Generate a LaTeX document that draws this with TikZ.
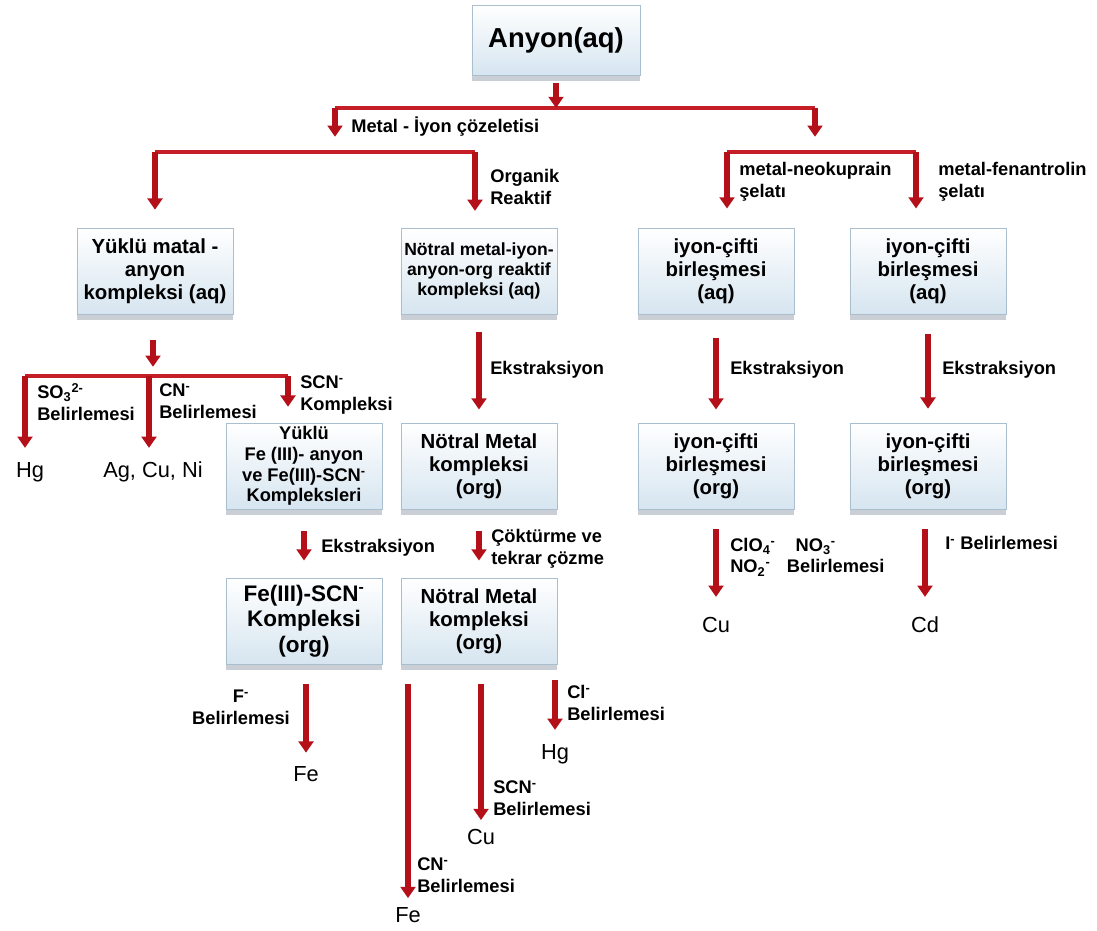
\documentclass[tikz,border=0pt]{standalone}
\usepackage{fontspec}
\setmainfont{Liberation Sans}
\usepackage{xcolor}
\usetikzlibrary{arrows.meta,shadows}

\definecolor{arrowred}{RGB}{180,16,26}
\definecolor{barred}{RGB}{198,30,38}
\definecolor{boxline}{RGB}{170,190,206}
\definecolor{boxfill}{RGB}{214,229,240}
\definecolor{boxshadow}{RGB}{120,135,150}

\begin{document}
\begin{tikzpicture}[x=0.025cm,y=-0.025cm,
		box/.style={draw=boxline, top color=white, bottom color=boxfill,
			minimum width=3.9cm, minimum height=2.15cm, inner sep=1pt, align=center,
			drop shadow={shadow xshift=0pt, shadow yshift=-4pt, opacity=0.4, fill=boxshadow}},
		fhuge/.style={font=\bfseries\fontsize{19.5}{22}\selectfont},
		fbig/.style={font=\bfseries\fontsize{16}{18}\selectfont},
		fmid/.style={font=\bfseries\fontsize{14.5}{16.5}\selectfont},
		fsmall/.style={font=\bfseries\fontsize{12.5}{14.3}\selectfont},
		ffe/.style={font=\bfseries\fontsize{13}{14.8}\selectfont},
		lbl/.style={anchor=west, align=left, inner sep=0pt, font=\bfseries\fontsize{13}{15.5}\selectfont},
		leaf/.style={inner sep=0pt, text height=11pt, text depth=3pt, font=\fontsize{15.5}{18}\selectfont},
		redbar/.style={draw=barred, line width=2.2pt},
		redarrow/.style={every edge/.style={draw=arrowred, line width=4.5pt,
			-{Triangle[width=10.5pt,length=8pt]}}}]
		\useasboundingbox (0,0) rectangle (1097,930);
		% boxes
		\node[box, fhuge, minimum width=4.2cm, minimum height=1.75cm] (anyon) at (556,40) {Anyon(aq)};
		\node[box, fmid] (yuklu) at (155,271) {Yüklü matal -\\anyon\\kompleksi (aq)};
		\node[box, fsmall] (notaq) at (479,271) {Nötral metal-iyon-\\anyon-org reaktif\\kompleksi (aq)};
		\node[box, fmid] (ionaqL) at (716,271) {iyon-çifti\\birleşmesi\\(aq)};
		\node[box, fmid] (ionaqR) at (928,271) {iyon-çifti\\birleşmesi\\(aq)};
		\node[box, ffe] (yfe) at (304,466) {Yüklü\\Fe (III)- anyon\\ve Fe(III)-SCN\textsuperscript{-}\\Kompleksleri};
		\node[box, fmid] (notorg) at (479,466) {Nötral Metal\\kompleksi\\(org)};
		\node[box, fmid] (ionorgL) at (716,466) {iyon-çifti\\birleşmesi\\(org)};
		\node[box, fmid] (ionorgR) at (928,466) {iyon-çifti\\birleşmesi\\(org)};
		\node[box, fbig] (fescn) at (304,621) {Fe(III)-SCN\textsuperscript{-}\\Kompleksi\\(org)};
		\node[box, fmid] (notorg2) at (479,621) {Nötral Metal\\kompleksi\\(org)};
		% results
		\node[leaf] (hg1) at (30,472) {Hg};
		\node[leaf] (agcu) at (153,472) {Ag, Cu, Ni};
		\node[leaf] (cu1) at (716,627) {Cu};
		\node[leaf] (cd) at (925,627) {Cd};
		\node[leaf] (fe1) at (306,776) {Fe};
		\node[leaf] (hg2) at (555,754) {Hg};
		\node[leaf] (cu2) at (481,839) {Cu};
		\node[leaf] (fe2) at (408,917) {Fe};
		% branch points
		\coordinate (j1) at (556,108);
		\coordinate (j1l) at (335,108);
		\coordinate (j1r) at (815,108);
		\coordinate (j2) at (335,152);
		\coordinate (j2l) at (155,152);
		\coordinate (j2r) at (475,152);
		\coordinate (j3) at (815,152);
		\coordinate (j3l) at (727,152);
		\coordinate (j3r) at (916,152);
		\coordinate (j4) at (153,376);
		\coordinate (j4l) at (25,376);
		\coordinate (j4m) at (149,376);
		\coordinate (j4r) at (288,376);
		%
		\draw[redbar] (j1l) -- (j1r);
		\draw[redbar] (j2l) -- (j2r);
		\draw[redbar] (j3l) -- (j3r);
		\draw[redbar] (j4l) -- (j4r);
		%
		\path[redarrow]
		% top
		(anyon) edge[shorten <=0.2cm] (j1)
		(j1l) edge[shorten >=0.38cm] (j2)
		(j1r) edge[shorten >=0.38cm] (j3)
		(j2l) edge[shorten >=0.45cm] (j2l |- yuklu.north)
		(j2r) edge[shorten >=0.42cm] (j2r |- notaq.north)
		(j3l) edge[shorten >=0.48cm] (j3l |- ionaqL.north)
		(j3r) edge[shorten >=0.48cm] (j3r |- ionaqR.north)
		% left branch
		(yuklu.south -| j4) edge[shorten <=0.63cm, shorten >=0.23cm] (j4)
		(j4l) edge[shorten >=0.35cm] (j4l |- hg1.north)
		(j4m) edge[shorten >=0.35cm] (j4m |- agcu.north)
		(j4r) edge[shorten >=0.4cm] (j4r |- yfe.north)
		% extraction
		(notaq) edge[shorten <=0.45cm, shorten >=0.33cm] (notorg)
		(ionaqL) edge[shorten <=0.58cm, shorten >=0.33cm] (ionorgL)
		(ionaqR) edge[shorten <=0.5cm, shorten >=0.35cm] (ionorgR)
		(yfe) edge[shorten <=0.55cm, shorten >=0.43cm] (fescn)
		(notorg) edge[shorten <=0.55cm, shorten >=0.43cm] (notorg2)
		% determination
		(cu1 |- ionorgL.south) edge[shorten <=0.5cm, shorten >=0.5cm] (cu1)
		(cd |- ionorgR.south) edge[shorten <=0.5cm, shorten >=0.5cm] (cd)
		(fe1 |- fescn.south) edge[shorten <=0.48cm, shorten >=0.33cm] (fe1)
		(fe2 |- notorg2.south) edge[shorten <=0.48cm, shorten >=0.22cm] (fe2)
		(cu2 |- notorg2.south) edge[shorten <=0.48cm, shorten >=0.22cm] (cu2)
		(hg2 |- notorg2.south) edge[shorten <=0.4cm, shorten >=0.35cm] (hg2);
		% labels
		\node[lbl] (lmetal) at (351,127) {Metal - İyon çözeletisi};
		\node[lbl] (lorg) at (490,187) {Organik\\Reaktif};
		\node[lbl] (lneo) at (739,182) {metal-neokuprain\\şelatı};
		\node[lbl] (lfen) at (938,182) {metal-fenantrolin\\şelatı};
		\node[lbl] (lso) at (37,402) {SO\textsubscript{3}\textsuperscript{2-}\\Belirlemesi};
		\node[lbl] (lcn) at (159,401) {CN\textsuperscript{-}\\Belirlemesi};
		\node[lbl] (lscn) at (300,395) {SCN\textsuperscript{-}\\Kompleksi};
		\node[lbl] (leks) at (490,370) {Ekstraksiyon};
		\node[lbl] (leksL) at (730,370) {Ekstraksiyon};
		\node[lbl] (leksR) at (942,370) {Ekstraksiyon};
		\node[lbl] (leksfe) at (321,548) {Ekstraksiyon};
		\node[lbl] (lcok) at (491,549) {Çöktürme ve\\tekrar çözme};
		\node[lbl] (lclo) at (730,557) {ClO\textsubscript{4}\textsuperscript{-}\hspace{1.1em}NO\textsubscript{3}\textsuperscript{-}\\NO\textsubscript{2}\textsuperscript{-}\hspace{0.9em}Belirlemesi};
		\node[lbl] (liod) at (945,543) {I\textsuperscript{-} Belirlemesi};
		\node[lbl, anchor=center, align=center] (lf) at (241,707) {F\textsuperscript{-}\\Belirlemesi};
		\node[lbl] (lcn2) at (417,875) {CN\textsuperscript{-}\\Belirlemesi};
		\node[lbl] (lscn2) at (493,798) {SCN\textsuperscript{-}\\Belirlemesi};
		\node[lbl] (lcl) at (567,703) {Cl\textsuperscript{-}\\Belirlemesi};
	\end{tikzpicture}
\end{document}
